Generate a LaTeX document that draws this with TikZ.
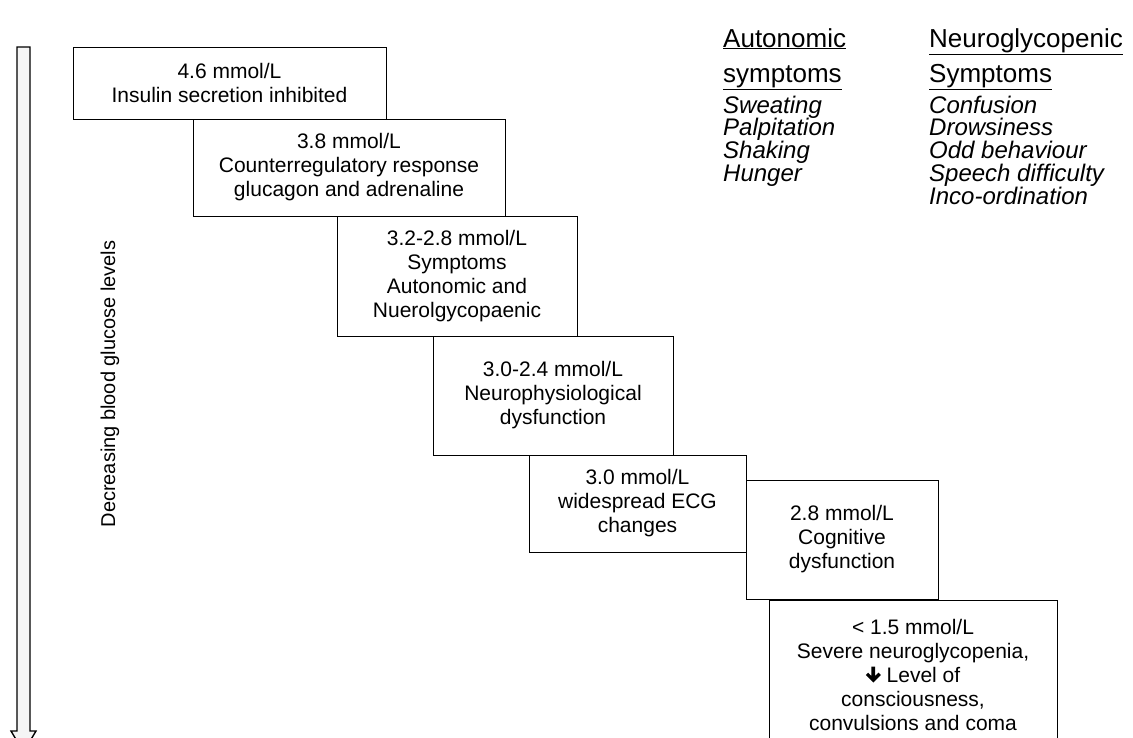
\documentclass[tikz,border=0pt]{standalone}
\usepackage{fontspec}
\setmainfont{Liberation Sans}
\tikzset{
  level/.style={draw, line width=1pt, fill=white, align=center,
    font=\fontsize{21}{24}\selectfont, inner sep=0pt},
  head/.style={font=\fontsize{26}{30}\selectfont, inner sep=0pt},
  sym/.style={font=\fontsize{24}{27}\selectfont\itshape, inner sep=0pt}
}
\newcommand{\dropsign}{\tikz[x=1pt,y=1pt,baseline=0pt]\fill (0,0) -- (7.5,7.5) -- (5.2,9.8) -- (1.9,6.5)
  -- (1.9,16) -- (-1.9,16) -- (-1.9,6.5) -- (-5.2,9.8) -- (-7.5,7.5) -- cycle;}
\begin{document}
\begin{tikzpicture}[x=1pt,y=-1pt]
  \clip (0,0) rectangle (1133,737);
  % glucose scale
  \draw[line width=1.4pt, fill=black!4] (17,47) -- (30,47) -- (30,731) -- (36,731)
    -- (23.5,752) -- (11,731) -- (17,731) -- cycle;
  \node[rotate=90, font=\fontsize{20}{24}\selectfont] (scale) at (110,384) {Decreasing blood glucose levels};
  % steps
  \node[level, minimum width=313pt, minimum height=72pt] (b1) at (229.5,83) {4.6 mmol/L\\Insulin secretion inhibited};
  \node[level, minimum width=312pt, minimum height=97pt] (b2) at (349,167.5) {3.8 mmol/L\\Counterregulatory response\\glucagon and adrenaline};
  \node[level, minimum width=240pt, minimum height=120pt] (b3) at (457,276) {3.2-2.8 mmol/L\\Symptoms\\Autonomic and\\Nuerolgycopaenic};
  \node[level, minimum width=240pt, minimum height=119pt] (b4) at (553,395.5) {3.0-2.4 mmol/L\\Neurophysiological\\dysfunction};
  \node[level, minimum width=217pt, minimum height=97pt] (b5) at (637.5,503.5) {3.0 mmol/L\\widespread ECG\\changes};
  \node[level, minimum width=192pt, minimum height=119pt] (b6) at (842,539.5) {2.8 mmol/L\\Cognitive\\dysfunction};
  \node[level, minimum width=288pt, minimum height=150pt] (b7) at (913,675) {< 1.5 mmol/L\\Severe neuroglycopenia,\\\dropsign\ Level of\\consciousness,\\convulsions and coma};
  % symptom lists
  \node[head, anchor=base west] (autohd1) at (723,47) {\underline{Autonomic}};
  \node[head, anchor=base west] (autohd2) at (723,82) {\underline{symptoms}};
  \node[head, anchor=base west] (neurohd1) at (929,47) {\underline{Neuroglycopenic}};
  \node[head, anchor=base west] (neurohd2) at (929,82) {\underline{Symptoms}};
  \foreach \w [count=\i] in {Sweating,Palpitation,Shaking,Hunger}
    \node[sym, anchor=base west] (auto\i) at (723,{90.5+22.7*\i}) {\w};
  \foreach \w [count=\i] in {Confusion,Drowsiness,Odd behaviour,Speech difficulty,Inco-ordination}
    \node[sym, anchor=base west] (neuro\i) at (929,{90.5+22.7*\i}) {\w};
\end{tikzpicture}
\end{document}
